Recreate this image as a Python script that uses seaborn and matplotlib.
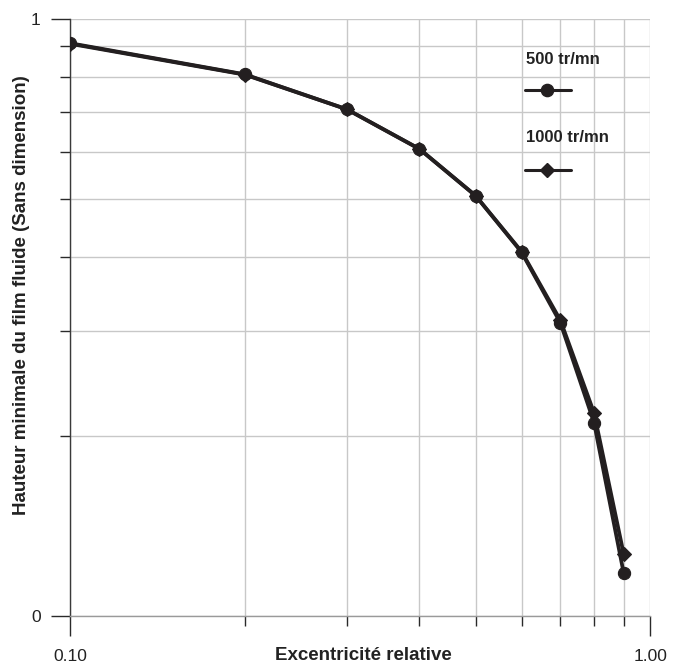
import matplotlib
matplotlib.use("Agg")
import matplotlib.pyplot as plt
from matplotlib.ticker import FixedLocator, FixedFormatter, NullFormatter
import pandas as pd
import seaborn as sns

# Relative eccentricity and minimum film thickness (dimensionless)
eccentricity = [0.1, 0.2, 0.3, 0.4, 0.5, 0.6, 0.7, 0.8, 0.9]
h_min_500 = [0.911, 0.808, 0.706, 0.606, 0.506, 0.407, 0.310, 0.211, 0.118]
h_min_1000 = [0.909, 0.807, 0.706, 0.606, 0.506, 0.408, 0.313, 0.219, 0.127]
series_labels = ["500 tr/mn", "1000 tr/mn"]
x_tick_labels = ["0.10", "1.00"]
y_tick_labels = ["0", "1"]

sns.set_theme(style="white")
plt.rcParams["font.family"] = ["Liberation Sans", "DejaVu Sans"]

ink = "#231f20"
grid_c = "#c8c8c8"
circle_ms = 8.8
diamond_ms = 7.4

fig = plt.figure(figsize=(6.87, 6.68), dpi=100)
ax = fig.add_axes([70 / 687, 1 - 616.3 / 668, 580.3 / 687, 597.3 / 668])

df500 = pd.DataFrame({"x": eccentricity, "y": h_min_500})
df1000 = pd.DataFrame({"x": eccentricity, "y": h_min_1000})

sns.lineplot(data=df500, x="x", y="y", ax=ax, color=ink, lw=2.7,
             marker="o", markersize=circle_ms, markerfacecolor=ink,
             markeredgecolor=ink, markeredgewidth=0.8, zorder=4)
sns.lineplot(data=df1000, x="x", y="y", ax=ax, color=ink, lw=2.7,
             marker="D", markersize=diamond_ms, markerfacecolor=ink,
             markeredgecolor=ink, markeredgewidth=0.8, zorder=5)

ax.set_xscale("log")
ax.set_yscale("log")
ax.set_xlim(0.1, 1.0)
ax.set_ylim(0.1, 1.0)

minor = [0.2, 0.3, 0.4, 0.5, 0.6, 0.7, 0.8, 0.9]
ax.xaxis.set_major_locator(FixedLocator([0.1, 1.0]))
ax.xaxis.set_major_formatter(FixedFormatter(x_tick_labels))
ax.xaxis.set_minor_locator(FixedLocator(minor))
ax.xaxis.set_minor_formatter(NullFormatter())
ax.yaxis.set_major_locator(FixedLocator([0.1, 1.0]))
ax.yaxis.set_major_formatter(FixedFormatter(y_tick_labels))
ax.yaxis.set_minor_locator(FixedLocator(minor))
ax.yaxis.set_minor_formatter(NullFormatter())

ax.grid(True, which="both", color=grid_c, lw=1.0, zorder=0)
ax.set_axisbelow(True)

for s in ("top", "right"):
    ax.spines[s].set_visible(False)
ax.spines["left"].set_color("#3a3a3a")
ax.spines["left"].set_linewidth(1.0)
ax.spines["bottom"].set_color("#9a9a9a")
ax.spines["bottom"].set_linewidth(1.0)

ax.tick_params(axis="x", which="major", direction="out", length=14.4, width=1.0,
               color="#2a2a2a", labelsize=12.5, labelcolor="#222222", pad=9,
               bottom=True)
ax.tick_params(axis="x", which="minor", direction="out", length=7.2, width=1.0,
               color="#2a2a2a", bottom=True)
ax.tick_params(axis="y", which="major", direction="out", length=14, width=1.0,
               color="#2a2a2a", labelsize=12.5, labelcolor="#222222", pad=7,
               left=True)
ax.tick_params(axis="y", which="minor", direction="out", length=7.2, width=1.0,
               color="#2a2a2a", left=True)

ax.set_xlabel("Excentricité relative", fontsize=13.5, fontweight="bold",
              color="#222222")
ax.xaxis.set_label_coords(0.505, -0.0648)
ax.xaxis.label.set_va("center")
ax.set_ylabel("Hauteur minimale du film fluide (Sans dimension)", fontsize=13.5,
              fontweight="bold", color="#222222")
ax.yaxis.set_label_coords(-0.0844, 0.538)
ax.yaxis.label.set_va("center")

# Legend: label text above each key
key_x = [0.784, 0.863]
key_mid = 0.8225
entries = [(series_labels[0], "o", circle_ms, 0.933, 0.881),
           (series_labels[1], "D", diamond_ms, 0.801, 0.747)]
for label, mk, ms, ty, ky in entries:
    ax.text(0.786, ty, label, transform=ax.transAxes, fontsize=12,
            fontweight="bold", color="#222222", va="center", ha="left")
    ax.plot(key_x, [ky, ky], transform=ax.transAxes, color=ink, lw=2.2,
            clip_on=False, zorder=6)
    ax.plot([key_mid], [ky], transform=ax.transAxes, marker=mk, markersize=ms,
            color=ink, markeredgecolor=ink, clip_on=False, zorder=7)

if ax.get_legend() is not None:
    ax.get_legend().remove()

fig.savefig("out.png", dpi=100)
